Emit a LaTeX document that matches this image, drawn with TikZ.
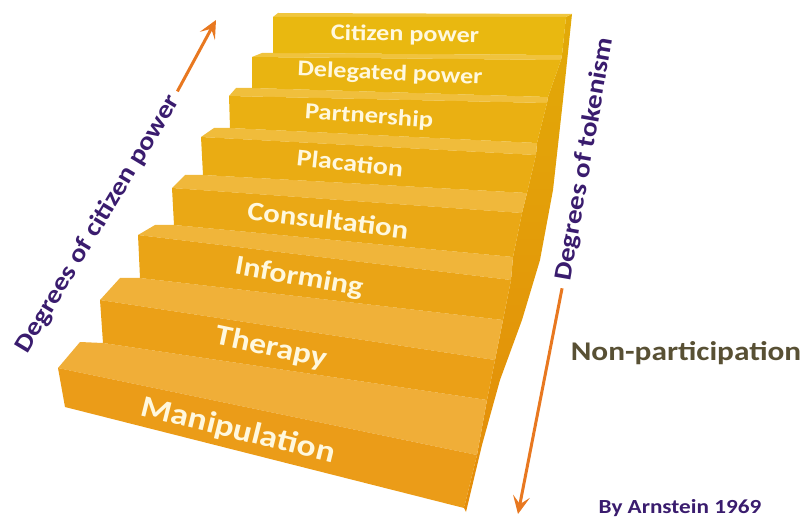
\documentclass[tikz,border=0pt]{standalone}
\usepackage{fontspec}
\setmainfont{Carlito}
\usetikzlibrary{arrows.meta}
\definecolor{frontA}{RGB}{233,184,16}
\definecolor{frontB}{RGB}{235,156,24}
\definecolor{treadA}{RGB}{240,198,62}
\definecolor{treadB}{RGB}{240,174,56}
\definecolor{sideA}{RGB}{226,170,8}
\definecolor{sideB}{RGB}{228,140,10}
\definecolor{stepwhite}{RGB}{255,248,222}
\definecolor{labelpurple}{RGB}{58,28,110}
\definecolor{arroworange}{RGB}{232,120,32}
\definecolor{nonpartgrey}{RGB}{88,80,52}

\begin{document}
\begin{tikzpicture}[x=1pt,y=-1pt,
  steplabel/.style 2 args={text=stepwhite,inner sep=0pt,rotate=#2,xscale=1.16,
    font=\fontsize{#1}{#1}\selectfont\bfseries},
  sidelabel/.style 2 args={text=labelpurple,inner sep=0pt,rotate=#2,xscale=1.16,
    font=\fontsize{#1}{#1}\selectfont\bfseries},
  levelarrow/.style={draw=arroworange,line width=3pt,
    -{Stealth[length=18pt,width=17pt,inset=8pt]}}]
\useasboundingbox (0,0) rectangle (803,521);

% side of the stairs
\shade[top color=sideA,bottom color=sideB] (572,14) -- (563,100) -- (553,190) -- (540,260)
  -- (522,320) -- (500,380) -- (482,445) -- (466,512) -- (464,508) -- (477,455) -- (487,400)
  -- (495,360) -- (503,320) -- (511,280) -- (513,257) -- (522,213) -- (527,193) -- (536,155)
  -- (537,143) -- (547,103) -- (548,97) -- (561,60) -- (562,55) -- (566,17) -- cycle;

% treads
\fill[treadA] (278,13) -- (273,17) -- (566,17) -- (572,14) -- cycle;
\fill[treadB!14!treadA] (262,53) -- (252,57) -- (561,60) -- (562,55) -- (273,53) -- cycle;
\fill[treadB!29!treadA] (236,88) -- (229,96) -- (547,103) -- (548,97) -- (252,88) -- cycle;
\fill[treadB!43!treadA] (214,128) -- (201,137) -- (536,155) -- (537,143) -- (230,128) -- cycle;
\fill[treadB!57!treadA] (185,175) -- (172,188) -- (522,213) -- (527,193) -- (203,175) -- cycle;
\fill[treadB!71!treadA] (155,225) -- (138,235) -- (511,280) -- (513,257) -- (174,225) -- cycle;
\fill[treadB!86!treadA] (120,278) -- (100,300) -- (495,360) -- (503,320) -- (140,278) -- cycle;
\fill[treadB] (80,342) -- (58,368) -- (477,455) -- (487,400) -- (103,343) -- cycle;

% fronts
\fill[frontA] (273,17) -- (273,53) -- (562,55) -- (566,17) -- cycle;
\fill[frontB!14!frontA] (252,57) -- (252,88) -- (548,97) -- (561,60) -- cycle;
\fill[frontB!29!frontA] (229,96) -- (230,128) -- (537,143) -- (547,103) -- cycle;
\fill[frontB!43!frontA] (201,137) -- (203,175) -- (527,193) -- (536,155) -- cycle;
\fill[frontB!57!frontA] (172,188) -- (174,225) -- (513,257) -- (522,213) -- cycle;
\fill[frontB!71!frontA] (138,235) -- (140,278) -- (503,320) -- (511,280) -- cycle;
\fill[frontB!86!frontA] (100,300) -- (103,343) -- (487,400) -- (495,360) -- cycle;
\fill[frontB] (58,368) -- (65,407) -- (464,508) -- (477,455) -- cycle;

\node[steplabel={22.5}{-1}] (citizen) at (405,35) {Citizen power};
\node[steplabel={22.5}{-2.5}] (delegated) at (390,74) {Delegated power};
\node[steplabel={23}{-4}] (partnership) at (369,117) {Partnership};
\node[steplabel={24}{-6}] (placation) at (350,163) {Placation};
\node[steplabel={26.5}{-7}] (consultation) at (328,220) {Consultation};
\node[steplabel={27.5}{-10}] (informing) at (299,278) {Informing};
\node[steplabel={29}{-12}] (therapy) at (271,348) {Therapy};
\node[steplabel={30.5}{-14}] (manipulation) at (238,431) {Manipulation};

\node[sidelabel={25}{59}] (powerlbl) at (98,224) {Degrees of citizen power};
\coordinate (upto) at (216,20);
\draw[levelarrow,shorten <=6pt] (powerlbl.east) -- (upto);

\node[sidelabel={25}{80}] (tokenlbl) at (585,159) {Degrees of tokenism};
\coordinate (downto) at (518,514);
\draw[levelarrow,shorten <=8pt] (tokenlbl.west) -- (downto);

\node[text=nonpartgrey,inner sep=0pt,xscale=1.16,font=\fontsize{27}{27}\selectfont\bfseries] (nonpart) at (686,353) {Non-participation};
\node[text=labelpurple,inner sep=0pt,xscale=1.16,font=\fontsize{20}{20}\selectfont\bfseries] (arnstein) at (680,508) {By Arnstein 1969};
\end{tikzpicture}
\end{document}
